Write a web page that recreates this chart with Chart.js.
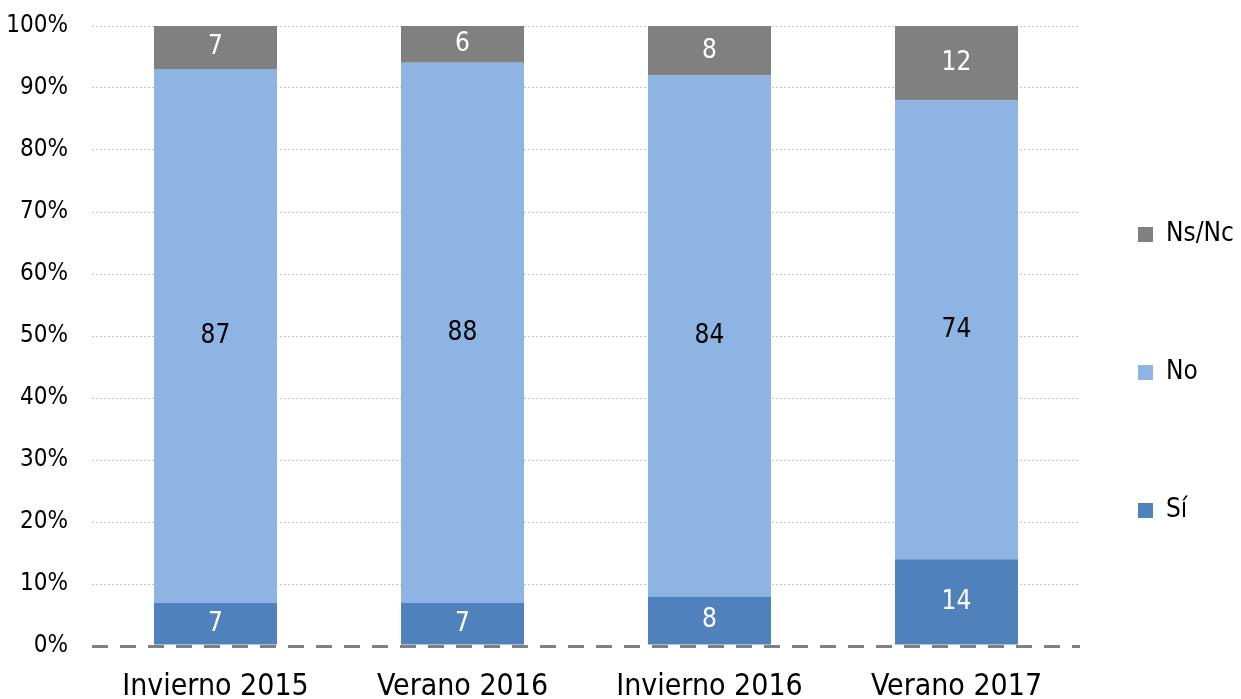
<!DOCTYPE html>
<html>
<head>
<meta charset="utf-8">
<script src="https://cdn.jsdelivr.net/npm/chart.js@4.4.1/dist/chart.umd.min.js"></script>
<style>
    html, body { margin: 0; padding: 0; background: #fff; }
</style>
</head>
<body>
<canvas id="chart" width="1241" height="699"></canvas>
<script>
'use strict';

// data
var categories = ['Invierno 2015', 'Verano 2016', 'Invierno 2016', 'Verano 2017'];
var seriesNames = ['Sí', 'No', 'Ns/Nc'];
var si = [7, 7, 8, 14];
var no = [87, 88, 84, 74];
var nsnc = [7, 6, 8, 12];
var yTickLabels = ['0%', '10%', '20%', '30%', '40%', '50%', '60%', '70%', '80%', '90%', '100%'];

var fontFamily = "'DejaVu Sans Condensed', 'DejaVu Sans', sans-serif";

// 100% stacked: each bar is scaled to its own total
var totals = categories.map((c, i) => si[i] + no[i] + nsnc[i]);
var toPct = arr => arr.map((v, i) => v / totals[i] * 100);

function makeSet(name, raw, color, labelColor) {
    return {
        label: name,
        data: toPct(raw),
        raw: raw,
        backgroundColor: color,
        labelColor: labelColor,
        borderWidth: 0,
        categoryPercentage: 1,
        barPercentage: 0.498
    };
}

var barLabels = {
    id: 'barLabels',
    afterDatasetsDraw: function (chart) {
        var ctx = chart.ctx;
        ctx.save();
        ctx.font = '26px ' + fontFamily;
        ctx.textAlign = 'center';
        ctx.textBaseline = 'middle';
        chart.data.datasets.forEach((ds, i) => {
            chart.getDatasetMeta(i).data.forEach((bar, j) => {
                ctx.fillStyle = ds.labelColor;
                ctx.fillText(ds.raw[j], bar.x, (bar.y + bar.base) / 2);
            });
        });
        ctx.restore();
    }
};

// keep the legend narrow and spread its items down the right side
var legendSpot = {
    id: 'legendSpot',
    beforeLayout: function (chart) {
        var lg = chart.legend;
        if (lg && !lg.patched) {
            var fit = lg.fit;
            lg.fit = function () { fit.call(this); this.width = 161; };
            lg.patched = true;
        }
    },
    afterLayout: function (chart) {
        var lg = chart.legend;
        lg.left -= 54;
        lg.top += 10; lg.bottom += 10;
    }
};

new Chart(document.getElementById('chart'), {
    type: 'bar',
    data: {
        labels: categories,
        datasets: [
            makeSet(seriesNames[0], si, '#4F81BD', '#ffffff'),
            makeSet(seriesNames[1], no, '#8EB4E3', '#000000'),
            makeSet(seriesNames[2], nsnc, '#808080', '#ffffff')
        ]
    },
    options: {
        responsive: false,
        animation: false,
        devicePixelRatio: 1,
        layout: { padding: { top: 26, left: 0, right: 0, bottom: 0 } },
        plugins: {
            legend: {
                position: 'right',
                reverse: true,
                labels: {
                    boxWidth: 15,
                    boxHeight: 15,
                    padding: 112,
                    color: '#000',
                    font: { family: fontFamily, size: 26 }
                }
            },
            tooltip: { enabled: false }
        },
        scales: {
            x: {
                stacked: true,
                grid: { display: false },
                border: { display: false },
                ticks: {
                    color: '#000',
                    padding: 15,
                    font: { family: fontFamily, size: 30 }
                },
                afterFit: s => { s.height = 53; }
            },
            y: {
                stacked: true,
                min: 0,
                max: 100,
                grid: {
                    drawTicks: false,
                    color: ctx => ctx.tick && ctx.tick.value === 0 ? '#808080' : '#C8C8C8',
                    lineWidth: ctx => ctx.tick && ctx.tick.value === 0 ? 3 : 1
                },
                border: {
                    display: false,
                    dash: ctx => ctx.tick && ctx.tick.value === 0 ? [16, 12] : [2, 2]
                },
                ticks: {
                    stepSize: 10,
                    padding: 24,
                    color: '#000',
                    font: { family: fontFamily, size: 24 },
                    callback: (v, i) => yTickLabels[i]
                },
                afterFit: s => {
                    s.width = 92;
                    s.paddingTop = 0;
                    s.paddingBottom = 0;
                }
            }
        }
    },
    plugins: [barLabels, legendSpot]
});
</script>
</body>
</html>
